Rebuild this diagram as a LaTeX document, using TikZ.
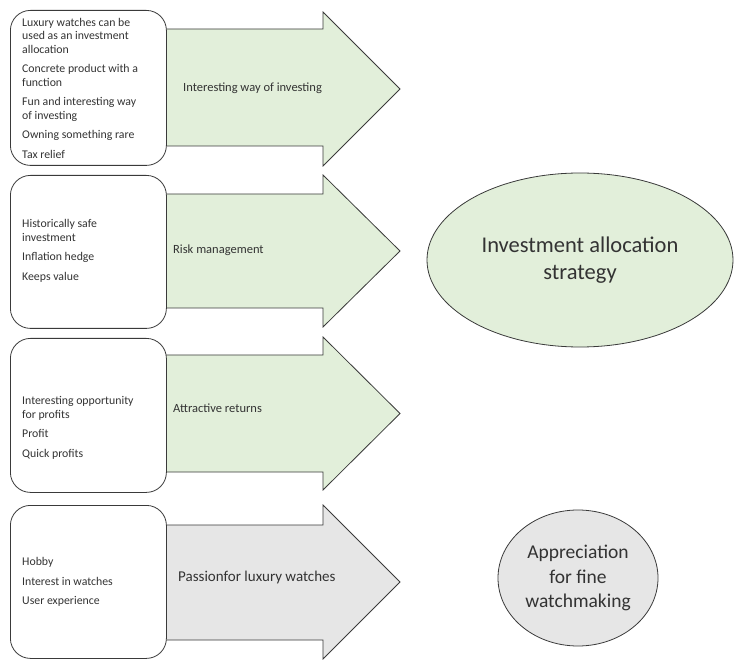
\documentclass[tikz,border=0pt]{standalone}
\usepackage{fontspec}
\setmainfont{Carlito}
\usetikzlibrary{shapes.geometric}
\definecolor{grn}{HTML}{E2EFDA}
\definecolor{gry}{HTML}{E6E6E6}
\definecolor{edge}{HTML}{3A3A3A}
\definecolor{txt}{HTML}{333333}
\tikzset{
  boxstyle/.style={draw=edge, line width=0.8pt, rounded corners=20pt, fill=white},
  arrstyle/.style={draw=edge, line width=0.8pt, line join=miter},
  itemtext/.style={anchor=west, align=left, inner sep=0pt, text=txt, font=\fontsize{11.8}{13.5}\selectfont},
  arrtext/.style={anchor=west, inner sep=0pt, text=txt, font=\fontsize{12.5}{14}\selectfont},
  elltext/.style={align=center, text=txt},
}
\begin{document}
\begin{tikzpicture}[x=1pt,y=-1pt]
\useasboundingbox (0,0) rectangle (734,660);
% arrows (drawn first, boxes on top)
\foreach \t/\b/\st/\sb/\col in {12/166/29/146/grn, 175/327/194/308/grn, 337/490/355/472/grn, 505/659/525/640/gry}{
  \filldraw[arrstyle, fill=\col] (160,\st) -- (323,\st) -- (323,\t) -- (400,{(\t+\b)/2}) -- (323,\b) -- (323,\sb) -- (160,\sb) -- cycle;
}
% boxes
\node[boxstyle, minimum width=156pt, minimum height=155pt, anchor=north west] (b1) at (10,10) {};
\node[boxstyle, minimum width=156pt, minimum height=153pt, anchor=north west] (b2) at (10,175) {};
\node[boxstyle, minimum width=156pt, minimum height=154pt, anchor=north west] (b3) at (10,338) {};
\node[boxstyle, minimum width=156pt, minimum height=153pt, anchor=north west] (b4) at (10,505) {};
% box texts
\node[itemtext] (t1) at (22,88) {Luxury watches can be\\used as an investment\\allocation\\[6pt]Concrete product with a\\function\\[6pt]Fun and interesting way\\of investing\\[6pt]Owning something rare\\[6pt]Tax relief};
\node[itemtext] (t2) at (22,251) {Historically safe\\investment\\[6pt]Inflation hedge\\[6pt]Keeps value};
\node[itemtext] (t3) at (22,428) {Interesting opportunity\\for profits\\[6pt]Profit\\[6pt]Quick profits};
\node[itemtext] (t4) at (22,582) {Hobby\\[6pt]Interest in watches\\[6pt]User experience};
% arrow labels
\node[arrtext] (a1) at (183,88) {Interesting way of investing};
\node[arrtext] (a2) at (173,250) {Risk management};
\node[arrtext] (a3) at (173,408) {Attractive returns};
\node[arrtext, font=\fontsize{15}{17}\selectfont] (a4) at (178,577) {Passionfor luxury watches};
% ellipses
\node[ellipse, draw=edge, line width=0.8pt, fill=grn, minimum width=306pt, minimum height=174pt, elltext, font=\fontsize{22.5}{27}\selectfont] (e1) at (580,260) {Investment allocation\\strategy};
\node[ellipse, draw=edge, line width=0.8pt, fill=gry, minimum width=160pt, minimum height=136pt, elltext, font=\fontsize{19.5}{24.5}\selectfont] (e2) at (578,578) {Appreciation\\for fine\\watchmaking};
\end{tikzpicture}
\end{document}
